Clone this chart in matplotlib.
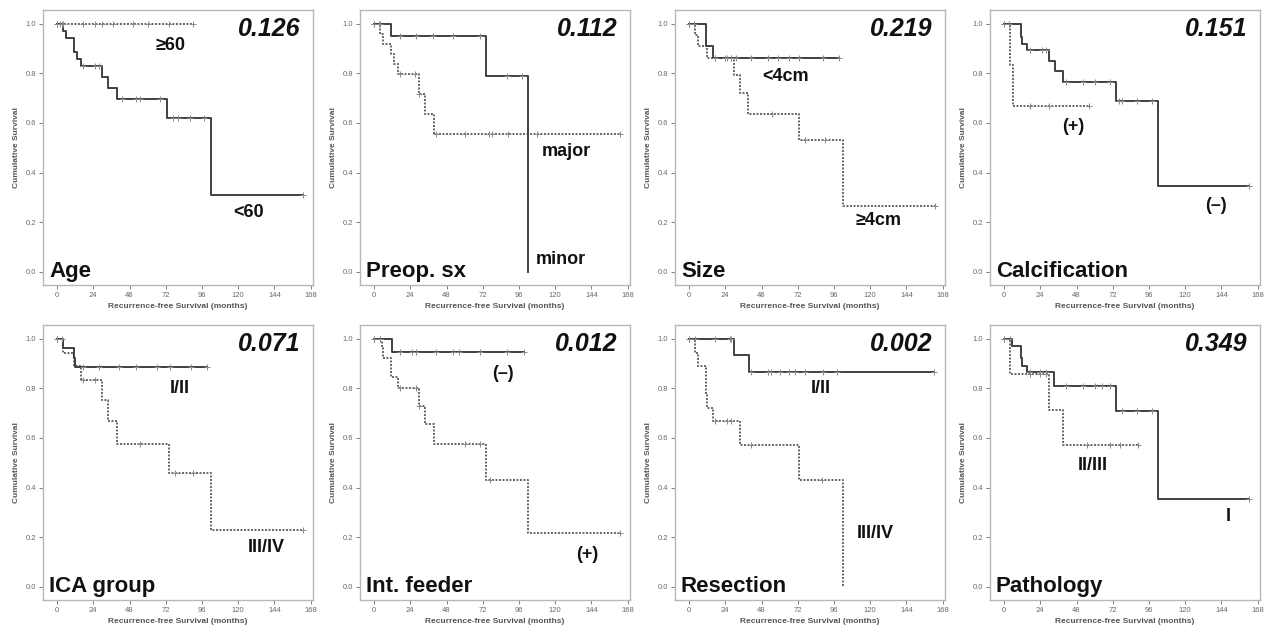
import matplotlib
matplotlib.use("Agg")
import matplotlib.pyplot as plt
import numpy as np

plt.rcParams['font.family'] = ['Liberation Sans', 'DejaVu Sans']

# ---------------- data (event times, survival after event, censor times) ----------------
# Age
age_lt60_t = [4, 6, 11, 13, 16, 30, 34, 40, 73, 102]
age_lt60_s = [0.972, 0.944, 0.888, 0.859, 0.830, 0.787, 0.743, 0.697, 0.620, 0.310]
age_lt60_c = [0, 3, 17, 25, 28, 43, 52, 55, 68, 77, 80, 88, 97, 163]
age_ge60_t = []
age_ge60_s = []
age_ge60_c = [0, 2, 4, 17, 25, 30, 37, 50, 60, 74, 90]

# Preop. sx
sx_minor_t = [11, 74, 102]
sx_minor_s = [0.952, 0.791, 0.0]
sx_minor_c = [0, 4, 17, 28, 39, 52, 70, 88, 98]
sx_major_t = [4, 6, 11, 13, 16, 30, 34, 40]
sx_major_s = [0.958, 0.917, 0.878, 0.839, 0.796, 0.716, 0.635, 0.556]
sx_major_c = [0, 3, 17, 27, 30, 41, 60, 76, 78, 89, 108, 163]

# Size
size_lt4_t = [11, 16]
size_lt4_s = [0.91, 0.864]
size_lt4_c = [0, 3, 17, 25, 28, 31, 41, 52, 59, 66, 73, 89, 99]
size_ge4_t = [4, 6, 12, 30, 34, 39, 73, 102]
size_ge4_s = [0.956, 0.91, 0.864, 0.792, 0.722, 0.638, 0.533, 0.266]
size_ge4_c = [0, 17, 24, 28, 55, 77, 90, 163]

# Calcification
calc_neg_t = [11, 12, 15, 30, 34, 39, 74, 102]
calc_neg_s = [0.949, 0.919, 0.895, 0.852, 0.809, 0.765, 0.690, 0.345]
calc_neg_c = [0, 3, 17, 25, 28, 41, 52, 60, 70, 76, 78, 88, 98, 162]
calc_pos_t = [4, 6]
calc_pos_s = [0.833, 0.667]
calc_pos_c = [0, 3, 17, 30, 56]

# ICA group
ica_12_t = [4, 11, 12]
ica_12_s = [0.962, 0.924, 0.886]
ica_12_c = [0, 3, 17, 28, 41, 52, 66, 75, 89, 99]
ica_34_t = [4, 11, 16, 30, 34, 40, 74, 102]
ica_34_s = [0.945, 0.889, 0.835, 0.753, 0.670, 0.575, 0.460, 0.230]
ica_34_c = [0, 17, 25, 55, 78, 90, 163]

# Int. feeder
feed_neg_t = [12]
feed_neg_s = [0.946]
feed_neg_c = [0, 4, 17, 25, 28, 41, 52, 56, 70, 88, 99]
feed_pos_t = [5, 6, 11, 16, 30, 34, 40, 74, 102]
feed_pos_s = [0.962, 0.922, 0.845, 0.801, 0.729, 0.656, 0.574, 0.431, 0.215]
feed_pos_c = [0, 4, 17, 28, 30, 60, 70, 77, 163]

# Resection
res_12_t = [30, 40]
res_12_s = [0.933, 0.866]
res_12_c = [0, 4, 17, 27, 28, 41, 52, 54, 60, 66, 70, 77, 89, 98, 162]
res_34_t = [4, 6, 11, 12, 16, 34, 73, 102]
res_34_s = [0.944, 0.889, 0.778, 0.722, 0.667, 0.571, 0.429, 0.0]
res_34_c = [0, 17, 25, 28, 41, 88]

# Pathology
path_1_t = [5, 11, 12, 15, 33, 74, 102]
path_1_s = [0.973, 0.921, 0.892, 0.868, 0.810, 0.709, 0.354]
path_1_c = [0, 4, 17, 24, 28, 41, 52, 60, 65, 70, 78, 88, 98, 162]
path_23_t = [4, 30, 39]
path_23_s = [0.857, 0.713, 0.572]
path_23_c = [0, 17, 24, 28, 55, 70, 77, 89]

panel_titles = ["Age", "Preop. sx", "Size", "Calcification",
                "ICA group", "Int. feeder", "Resection", "Pathology"]
p_values = ["0.126", "0.112", "0.219", "0.151", "0.071", "0.012", "0.002", "0.349"]

x_ticks = [0, 24, 48, 72, 96, 120, 144, 168]
y_ticks = [0.0, 0.2, 0.4, 0.6, 0.8, 1.0]

# (solid curve, dotted curve, labels with positions)
panels = [
    ((age_lt60_t, age_lt60_s, age_lt60_c), (age_ge60_t, age_ge60_s, age_ge60_c),
     [("<60", 126.5, 0.238), ("\u226560", 75, 0.911)]),
    ((sx_minor_t, sx_minor_s, sx_minor_c), (sx_major_t, sx_major_s, sx_major_c),
     [("minor", 124, 0.047), ("major", 127.5, 0.485)]),
    ((size_lt4_t, size_lt4_s, size_lt4_c), (size_ge4_t, size_ge4_s, size_ge4_c),
     [("<4cm", 64, 0.788), ("\u22654cm", 125.7, 0.208)]),
    ((calc_neg_t, calc_neg_s, calc_neg_c), (calc_pos_t, calc_pos_s, calc_pos_c),
     [("(\u2013)", 140, 0.268), ("(+)", 46, 0.584)]),
    ((ica_12_t, ica_12_s, ica_12_c), (ica_34_t, ica_34_s, ica_34_c),
     [("I/II", 81.5, 0.80), ("III/IV", 138.7, 0.158)]),
    ((feed_neg_t, feed_neg_s, feed_neg_c), (feed_pos_t, feed_pos_s, feed_pos_c),
     [("(\u2013)", 85.5, 0.862), ("(+)", 141, 0.13)]),
    ((res_12_t, res_12_s, res_12_c), (res_34_t, res_34_s, res_34_c),
     [("I/II", 87, 0.80), ("III/IV", 123, 0.215)]),
    ((path_1_t, path_1_s, path_1_c), (path_23_t, path_23_s, path_23_c),
     [("I", 148.8, 0.282), ("II/III", 59, 0.49)]),
]

W, H = 1272, 630
fig = plt.figure(figsize=(W / 100, H / 100), dpi=100)
fig.patch.set_facecolor("white")

lefts = [43, 360, 675, 990]
tops = [10, 325]
aw, ah = 270, 275

SOLID = "#404040"
DOTTED = "#666666"
SPINE = "#b8b8b8"
TICKC = "#6a6a6a"


def km_step(t, s, c):
    end = max([0] + list(t) + list(c))
    xs = [0] + list(t) + [end]
    ys = [1.0] + list(s) + [s[-1] if s else 1.0]
    return xs, ys


def surv_at(t, s, x):
    v = 1.0
    for ti, si in zip(t, s):
        if ti <= x:
            v = si
    return v


for i, (solid, dotted, labels) in enumerate(panels):
    r, col = divmod(i, 4)
    l = lefts[col]
    top = tops[r]
    ax = fig.add_axes([l / W, (H - top - ah) / H, aw / W, ah / H])
    ax.set_xlim(-9.3, 169.5)
    ax.set_ylim(-0.054, 1.056)

    for (t, s, c), ls, colr, lw in [(dotted, (0, (1, 0.8)), DOTTED, 1.4),
                                    (solid, "-", SOLID, 1.4)]:
        xs, ys = km_step(t, s, c)
        ax.step(xs, ys, where="post", color=colr, lw=lw, linestyle=ls, zorder=3)
        cy = [surv_at(t, s, x) for x in c]
        ax.plot(c, cy, linestyle="none", marker="+", ms=4, mew=0.7,
                color="#8a8a8a", zorder=4)

    for txt, x, y in labels:
        ax.text(x, y, txt, ha="center", va="center", fontsize=13,
                fontweight="bold", color="#111111")

    ax.text(0.955, 0.975, p_values[i], transform=ax.transAxes, ha="right", va="top",
            fontsize=18, fontweight="bold", fontstyle="italic", color="#111111")
    ax.text(0.022, 0.03, panel_titles[i], transform=ax.transAxes, ha="left",
            va="baseline", fontsize=16, fontweight="bold", color="#111111")

    ax.set_xticks(x_ticks)
    ax.set_yticks(y_ticks)
    ax.set_yticklabels([f"{v:.1f}" for v in y_ticks])
    ax.tick_params(axis="both", direction="out", length=3, width=0.6,
                   color=TICKC, labelcolor=TICKC, labelsize=5.5, pad=2)
    for sp in ax.spines.values():
        sp.set_color(SPINE)
        sp.set_linewidth(1.0)
    ax.set_ylabel("Cumulative Survival", fontsize=6, fontweight="bold",
                  color="#555555", labelpad=4)
    ax.set_xlabel("Recurrence-free Survival (months)", fontsize=6,
                  fontweight="bold", color="#555555", labelpad=3)

fig.savefig("out.png", dpi=100, facecolor="white")
